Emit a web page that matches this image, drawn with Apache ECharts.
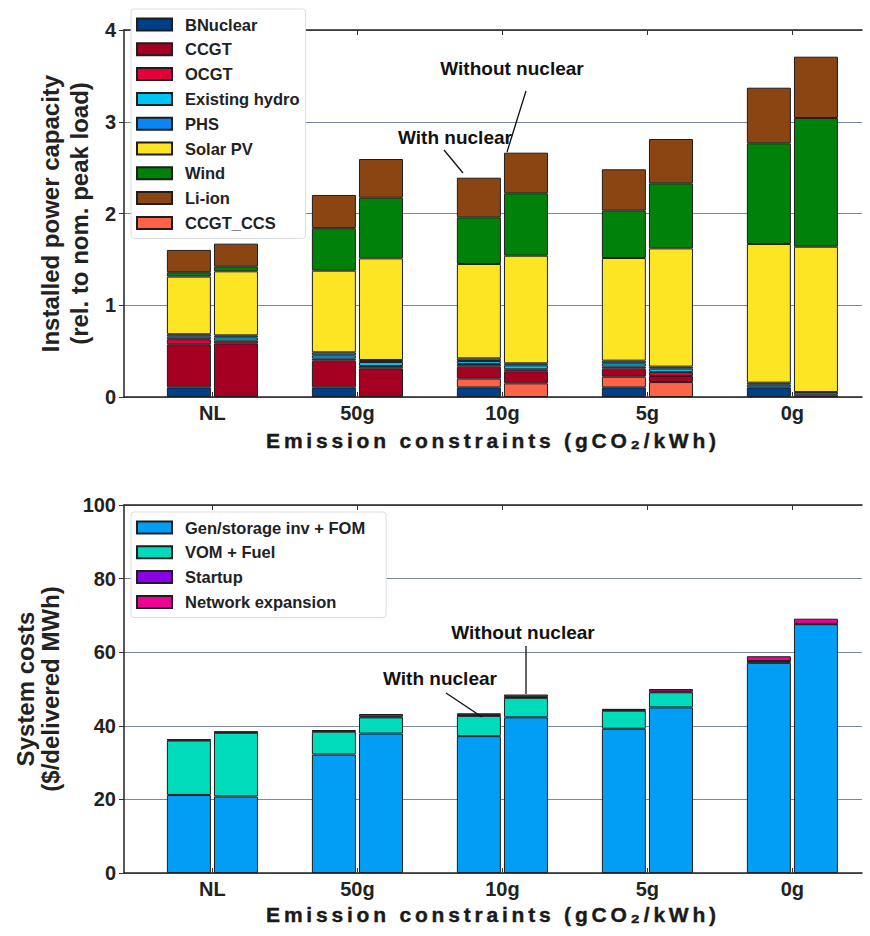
<!DOCTYPE html>
<html><head><meta charset="utf-8">
<script src="https://cdn.jsdelivr.net/npm/echarts@6/dist/echarts.min.js"></script>
<style>html,body{margin:0;padding:0;background:#fff}#c{width:870px;height:936px}</style>
</head><body><div id="c"></div><script>
// ---------- data ----------
const categories = ['NL', '50g', '10g', '5g', '0g'];
const capTicks = [0, 1, 2, 3, 4];
const costTicks = [0, 20, 40, 60, 80, 100];

// Installed capacity, with nuclear (rel. to nom. peak load)
const withBNuclear = [0.105, 0.105, 0.105, 0.105, 0.105];
const withCCGT_CCS = [0, 0, 0.095, 0.116, 0];
const withCCGT     = [0.47, 0.291, 0.131, 0.088, 0];
const withOCGT     = [0.055, 0.022, 0.029, 0.022, 0];
const withHydro    = [0.028, 0.036, 0.032, 0.036, 0.029];
const withPHS      = [0.026, 0.033, 0.029, 0.029, 0.022];
const withSolar    = [0.628, 0.89, 1.029, 1.119, 1.512];
const withWind     = [0.048, 0.463, 0.508, 0.516, 1.097];
const withLiion    = [0.243, 0.362, 0.432, 0.451, 0.606];

// Installed capacity, without nuclear
const woBNuclear = [0, 0, 0, 0, 0];
const woCCGT_CCS = [0, 0, 0.149, 0.163, 0];
const woCCGT     = [0.585, 0.312, 0.131, 0.066, 0];
const woOCGT     = [0.029, 0.026, 0.022, 0.043, 0];
const woHydro    = [0.036, 0.043, 0.043, 0.037, 0.025];
const woPHS      = [0.022, 0.022, 0.022, 0.022, 0.029];
const woSolar    = [0.698, 1.108, 1.173, 1.289, 1.584];
const woWind     = [0.05, 0.661, 0.68, 0.709, 1.403];
const woLiion    = [0.251, 0.422, 0.443, 0.483, 0.668];

// System costs ($/delivered MWh)
const withInvFOM  = [21.2, 32.2, 37.2, 39.2, 57.1];
const withVOMFuel = [14.8, 6.2, 5.5, 4.9, 0.4];
const withStartup = [0.2, 0.2, 0.2, 0.2, 0.1];
const withNetwork = [0.1, 0.2, 0.5, 0.3, 1.3];
const woInvFOM  = [20.8, 37.9, 42.3, 45.0, 67.6];
const woVOMFuel = [17.3, 4.4, 5.3, 4.1, 0.1];
const woStartup = [0.2, 0.2, 0.2, 0.2, 0.0];
const woNetwork = [0.1, 0.7, 0.7, 0.7, 1.4];

// ---------- styling ----------
const FONT = 'Liberation Sans, Arial, sans-serif';
const capTechs = [
  ['BNuclear', '#003f88', withBNuclear, woBNuclear],
  ['CCGT_CCS', '#ff6347', withCCGT_CCS, woCCGT_CCS],
  ['CCGT', '#a50021', withCCGT, woCCGT],
  ['OCGT', '#e4003a', withOCGT, woOCGT],
  ['Existing hydro', '#00c3f2', withHydro, woHydro],
  ['PHS', '#0a86f2', withPHS, woPHS],
  ['Solar PV', '#fde523', withSolar, woSolar],
  ['Wind', '#00820a', withWind, woWind],
  ['Li-ion', '#8b4513', withLiion, woLiion]
];
const capLegend = ['BNuclear', 'CCGT', 'OCGT', 'Existing hydro', 'PHS', 'Solar PV', 'Wind', 'Li-ion', 'CCGT_CCS'];
const costItems = [
  ['Gen/storage inv + FOM', '#009ef5', withInvFOM, woInvFOM],
  ['VOM + Fuel', '#00dcbb', withVOMFuel, woVOMFuel],
  ['Startup', '#8a00e6', withStartup, woStartup],
  ['Network expansion', '#ec0096', withNetwork, woNetwork]
];

function mk(name, vals, stack, color, gi) {
  return {
    name: name, type: 'bar', stack: stack, xAxisIndex: gi * 2, yAxisIndex: gi,
    barWidth: 44, barGap: '7%', animation: false,
    encode: { x: 1, y: 0 },
    itemStyle: { color: color, borderColor: '#1e1e1e', borderWidth: 1 },
    emphasis: { disabled: true },
    data: vals.map((v, i) => [v > 0 ? v : '-', i + 1])
  };
}
const series = [];
capTechs.forEach(t => series.push(mk(t[0], t[2], 'capWith', t[1], 0)));
capTechs.forEach(t => series.push(mk(t[0], t[3], 'capWo', t[1], 0)));
costItems.forEach(t => series.push(mk(t[0], t[2], 'costWith', t[1], 1)));
costItems.forEach(t => series.push(mk(t[0], t[3], 'costWo', t[1], 1)));

const xPositions = categories.map((c, i) => i + 1);
function xBottom(gi) {
  return {
    type: 'value', gridIndex: gi, min: 0.39, max: 5.48, position: 'bottom',
    name: 'Emission constraints (gCO\u2082/kWh)', nameLocation: 'middle', nameGap: gi === 0 ? 33 : 31,
    nameTextStyle: { fontFamily: FONT, fontWeight: 'bold', fontSize: 21, color: '#1a1a1a' },
    axisLine: { show: true, onZero: false, lineStyle: { color: '#222', width: 1.5 } },
    axisTick: { show: true, inside: true, length: 5, customValues: xPositions, lineStyle: { color: '#333' } },
    axisLabel: { customValues: xPositions, formatter: v => categories[Math.round(v) - 1], fontFamily: FONT,
      fontWeight: 'bold', fontSize: 20, color: '#222', margin: 6 },
    splitLine: { show: false }
  };
}
function xTop(gi) {
  return {
    type: 'value', gridIndex: gi, min: 0.39, max: 5.48, position: 'top',
    axisLine: { show: true, onZero: false, lineStyle: { color: '#222', width: 1.5 } },
    axisTick: { show: true, inside: true, length: 5, customValues: xPositions, lineStyle: { color: '#333' } },
    axisLabel: { show: false }, splitLine: { show: false }
  };
}
function yAx(gi, ticks, name, gap, lh) {
  return {
    type: 'value', gridIndex: gi, min: ticks[0], max: ticks[ticks.length - 1], interval: ticks[1] - ticks[0],
    name: name, nameLocation: 'middle', nameRotate: 90, nameGap: gap,
    nameTextStyle: { fontFamily: FONT, fontWeight: 'bold', fontSize: 24, color: '#222', lineHeight: lh },
    axisLine: { show: true, lineStyle: { color: '#222', width: 1.5 } },
    axisTick: { show: true, inside: false, length: 5, lineStyle: { color: '#333' } },
    axisLabel: { fontFamily: FONT, fontWeight: 'bold', fontSize: 20, color: '#222', margin: 8 },
    splitLine: { show: true, lineStyle: { color: '#7d8898', width: 1 } }
  };
}
function legend(data, top, padRight) {
  return {
    data: data, orient: 'vertical', left: 131, top: top, itemWidth: 35, itemHeight: 12, itemGap: 7.8,
    icon: 'rect',
    padding: [7, padRight, 7, 5], backgroundColor: '#fff', borderColor: '#dcdcdc', borderWidth: 1, borderRadius: 3,
    selectedMode: false,
    textStyle: { fontFamily: FONT, fontWeight: 'bold', fontSize: 16.5, color: '#222', lineHeight: 17, padding: [0, 0, 0, 8] }
  };
}
const annFont = { fontFamily: FONT, fontWeight: 'bold', fontSize: 19, fill: '#111' };
function ann(text, x, y) {
  return { type: 'text', x: x, y: y, z: 100, style: Object.assign({ text: text, align: 'center', verticalAlign: 'middle' }, annFont) };
}
function seg(x1, y1, x2, y2) {
  return { type: 'line', z: 100, shape: { x1: x1, y1: y1, x2: x2, y2: y2 }, style: { stroke: '#111', lineWidth: 1.3 } };
}

const chart = echarts.init(document.getElementById('c'), null, { renderer: 'svg' });
chart.setOption({
  animation: false,
  backgroundColor: '#fff',
  grid: [
    { left: 124, right: 8, top: 30, height: 367 },
    { left: 124, right: 8, top: 505, height: 368 }
  ],
  xAxis: [xBottom(0), xTop(0), xBottom(1), xTop(1)],
  yAxis: [
    yAx(0, capTicks, 'Installed power capacity\n(rel. to nom. peak load)', 30, 29),
    yAx(1, costTicks, 'System costs\n($/delivered MWh)', 61, 25)
  ],
  legend: [legend(capLegend, 9, 6), legend(costItems.map(c => c[0]), 512, 21)],
  graphic: [
    ann('Without nuclear', 512, 68), seg(526, 91, 507, 152),
    ann('With nuclear', 455, 137), seg(444, 150, 463, 173),
    ann('Without nuclear', 523, 632), seg(526, 646, 526, 694),
    ann('With nuclear', 440, 678), seg(446, 693, 482, 717)
  ],
  series: series
});
// tracked axis titles, as in the reference figure
function track() {
  document.querySelectorAll('#c text').forEach(t => {
    if (t.textContent.indexOf('Emission') === 0) {
      t.setAttribute('letter-spacing', '3.8');
      t.setAttribute('stroke', '#1a1a1a');
      t.setAttribute('stroke-width', '0.4');
    }
  });
}
chart.on('finished', track);
track();
setTimeout(track, 50);
</script></body></html>
